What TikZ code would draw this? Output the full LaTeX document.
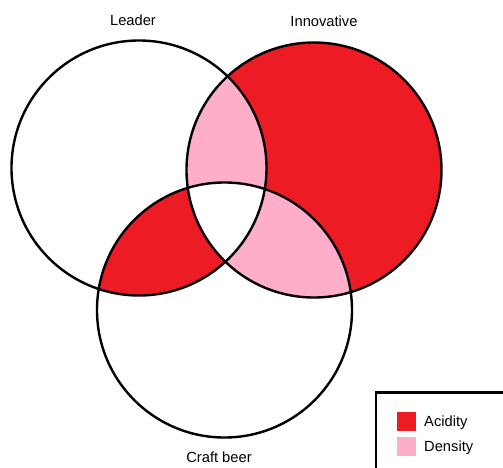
\documentclass[tikz,border=0pt]{standalone}
\usepackage{fontspec}
\setmainfont{Liberation Sans}
\definecolor{acid}{HTML}{ED1C24}
\definecolor{dens}{HTML}{FFAEC9}
\begin{document}
\begin{tikzpicture}[x=1pt,y=-1pt,
  ring/.style={draw=black,line width=2.4pt},
  setlabel/.style={inner sep=0pt,font=\fontsize{14.7}{17}\selectfont},
  keytext/.style={inner sep=0pt,anchor=base west,font=\fontsize{14.7}{17}\selectfont},
  swatch/.style={minimum width=19pt,minimum height=19pt,inner sep=0pt,draw=none}]
\useasboundingbox (0,0) rectangle (503,467);
\fill[white] (0,0) rectangle (503,467);

% set centres and common radius
\coordinate (L) at (139,168);
\coordinate (I) at (314,170);
\coordinate (C) at (224.5,310);
\def\rad{127.5}

% Innovative alone
\fill[acid] (I) circle (\rad);
% Leader and Innovative
\begin{scope}
  \clip (L) circle (\rad);
  \fill[dens] (I) circle (\rad);
\end{scope}
% Innovative and Craft beer
\begin{scope}
  \clip (C) circle (\rad);
  \fill[dens] (I) circle (\rad);
\end{scope}
% Leader and Craft beer
\begin{scope}
  \clip (L) circle (\rad);
  \fill[acid] (C) circle (\rad);
\end{scope}
% all three
\begin{scope}
  \clip (L) circle (\rad);
  \clip (I) circle (\rad);
  \fill[white] (C) circle (\rad);
\end{scope}

% outlines
\draw[ring] (L) circle (\rad);
\draw[ring] (I) circle (\rad);
\draw[ring] (C) circle (\rad);

% set names
\node[setlabel] (leader) at (133,20.5) {Leader};
\node[setlabel] (innov) at (324,21.5) {Innovative};
\node[setlabel] (craft) at (219,457.5) {Craft beer};

% legend
\draw[line width=2.8pt] (376,468) -- (376,392.5) -- (504,392.5);
\node[swatch,fill=acid] (keyA) at (406,421) {};
\node[swatch,fill=dens] (keyD) at (406,446) {};
\node[keytext] (txtA) at (424,426.5) {Acidity};
\node[keytext] (txtD) at (424,451.5) {Density};
\end{tikzpicture}
\end{document}
